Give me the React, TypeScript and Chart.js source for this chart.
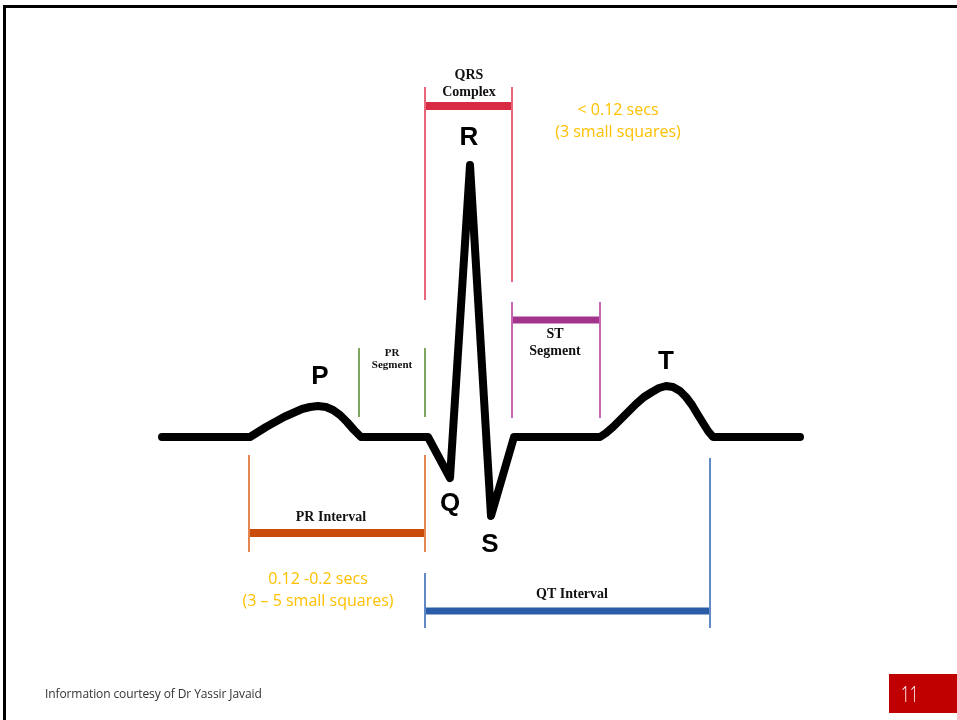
import React, { useEffect, useRef } from "react";
import { Chart, registerables } from "chart.js";

Chart.register(...registerables);

// ECG trace: time (px-scaled units) and amplitude (units above the isoelectric line)
const ecgTime = [162, 250, 258, 266, 275, 284, 293, 302, 310, 318, 326, 333, 340, 347, 354, 361, 428, 450, 470, 491, 514, 600, 606, 613, 620, 628, 636, 644, 652, 659, 666, 673, 680, 686, 692, 698, 703, 708, 713, 800];
const ecgAmp = [0, 0, 5, 10, 15, 20, 24, 28, 30, 31, 30, 27, 22, 15, 7, 0, 0, -41, 272, -79, 0, 0, 4, 10, 17, 25, 33, 40, 45, 49, 51, 50, 46, 40, 32, 22, 14, 6, 0, 0];

// Interval / segment brackets
const bracketNames = ["QRS Complex", "PR Segment", "ST Segment", "PR Interval", "QT Interval"];
const bracketStart = [425, 359, 512, 249, 425];
const bracketEnd = [512, 425, 600, 425, 710];
const bracketLevel = [331, null, 117, -96, -174];
const startTickTop = [350, 89, 135, -18, -136];
const startTickBottom = [137, 20, 19, -115, -191];
const endTickTop = [350, 89, 135, -18, -21];
const endTickBottom = [155, 20, 19, -115, -191];

// Wave letters
const waveNames = ["P", "Q", "R", "S", "T"];
const waveTime = [320, 450, 469, 490, 666];
const waveAmp = [60, -67, 299, -108, 75];

// Duration notes
const noteLines = [["< 0.12 secs", "(3 small squares)"], ["0.12 -0.2 secs", "(3 \u2013 5 small squares)"]];
const noteTime = [618, 318];
const noteAmp = [327, -142];

// styles
const bracketStyle = [
  { tick: "#e8677c", bar: "#d92a44", barW: 8, text: [["QRS", 362], ["Complex", 345]], tx: 469, font: 'bold 14px "Liberation Serif"' },
  { tick: "#7ea65e", bar: "#7ea65e", barW: 0, text: [["PR", 84], ["Segment", 72]], tx: 392, font: 'bold 11px "Liberation Serif"' },
  { tick: "#c665b6", bar: "#a2348b", barW: 7, text: [["ST", 103], ["Segment", 86]], tx: 555, font: 'bold 14px "Liberation Serif"' },
  { tick: "#e5854f", bar: "#c94c0b", barW: 8, text: [["PR Interval", -80]], tx: 331, font: 'bold 14px "Liberation Serif"' },
  { tick: "#6189c6", bar: "#2b5ca7", barW: 7, text: [["QT Interval", -157]], tx: 572, font: 'bold 14px "Liberation Serif"' },
];

const textPlugin = {
  id: "ecgText",
  afterDatasetsDraw(chart: any) {
    const ctx = chart.ctx;
    const xs = chart.scales.x;
    const ys = chart.scales.y;
    ctx.save();
    ctx.textAlign = "center";
    ctx.textBaseline = "middle";
    ctx.fillStyle = "#111";
    bracketStyle.forEach((s) => {
      ctx.font = s.font;
      s.text.forEach(([t, a]) => {
        ctx.fillText(t as string, xs.getPixelForValue(s.tx), ys.getPixelForValue(a as number));
      });
    });
    ctx.font = 'bold 26px "Liberation Sans"';
    ctx.fillStyle = "#000";
    waveNames.forEach((n, i) => {
      ctx.fillText(n, xs.getPixelForValue(waveTime[i]), ys.getPixelForValue(waveAmp[i]));
    });
    ctx.font = '16px "Open Sans"';
    ctx.fillStyle = "#ffc000";
    noteLines.forEach((lines, i) => {
      lines.forEach((l, j) => {
        ctx.fillText(l, xs.getPixelForValue(noteTime[i]), ys.getPixelForValue(noteAmp[i]) + j * 22);
      });
    });
    ctx.restore();
  },
};

export default function App() {
  const ref = useRef<HTMLCanvasElement>(null);
  useEffect(() => {
    if (!ref.current) return;
    const datasets: any[] = [];
    bracketNames.forEach((name, i) => {
      const st = bracketStyle[i];
      datasets.push({
        label: name + " start",
        data: [{ x: bracketStart[i], y: startTickTop[i] }, { x: bracketStart[i], y: startTickBottom[i] }],
        borderColor: st.tick, borderWidth: 2, showLine: true, pointRadius: 0,
      });
      datasets.push({
        label: name + " end",
        data: [{ x: bracketEnd[i], y: endTickTop[i] }, { x: bracketEnd[i], y: endTickBottom[i] }],
        borderColor: st.tick, borderWidth: 2, showLine: true, pointRadius: 0,
      });
      if (bracketLevel[i] !== null) {
        datasets.push({
          label: name,
          data: [{ x: bracketStart[i], y: bracketLevel[i] }, { x: bracketEnd[i], y: bracketLevel[i] }],
          borderColor: st.bar, borderWidth: st.barW, showLine: true, pointRadius: 0, borderCapStyle: "butt",
        });
      }
    });
    datasets.push({
      label: "ECG",
      data: ecgTime.map((t, i) => ({ x: t, y: ecgAmp[i] })),
      borderColor: "#000", borderWidth: 8, showLine: true, pointRadius: 0,
      borderCapStyle: "round", borderJoinStyle: "round", tension: 0,
    });
    const chart = new Chart(ref.current, {
      type: "scatter",
      data: { datasets },
      options: {
        animation: false,
        responsive: false,
        events: [],
        layout: { padding: 0 },
        plugins: { legend: { display: false }, tooltip: { enabled: false } },
        scales: {
          x: { type: "linear", min: 0, max: 957, display: false },
          y: { type: "linear", min: -283, max: 437, display: false },
        },
      },
      plugins: [textPlugin],
    });
    return () => chart.destroy();
  }, []);
  return (
    <div style={{ position: "absolute", left: 0, top: 0, width: 957, height: 720, background: "#fff", overflow: "hidden" }}>
      <canvas ref={ref} width={957} height={720} style={{ position: "absolute", left: 0, top: 0 }} />
      <div style={{ position: "absolute", left: 3, top: 5, width: 960, height: 720, borderTop: "3px solid #000", borderLeft: "3px solid #000", boxSizing: "border-box" }} />
      <div style={{ position: "absolute", left: 45, top: 685, fontFamily: '"Open Sans"', fontSize: 12, color: "#333", letterSpacing: -0.1, whiteSpace: "nowrap" }}>
        Information courtesy of Dr Yassir Javaid
      </div>
      <div style={{ position: "absolute", left: 889, top: 674, width: 68, height: 39, background: "#c00000", overflow: "hidden" }}>
        <span style={{ position: "absolute", left: 12, top: 0, color: "#fff", fontFamily: '"Open Sans"', fontWeight: 300, fontSize: 22, lineHeight: "39px", transform: "scaleX(0.7)", transformOrigin: "left center", display: "inline-block" }}>
          11
        </span>
      </div>
    </div>
  );
}
